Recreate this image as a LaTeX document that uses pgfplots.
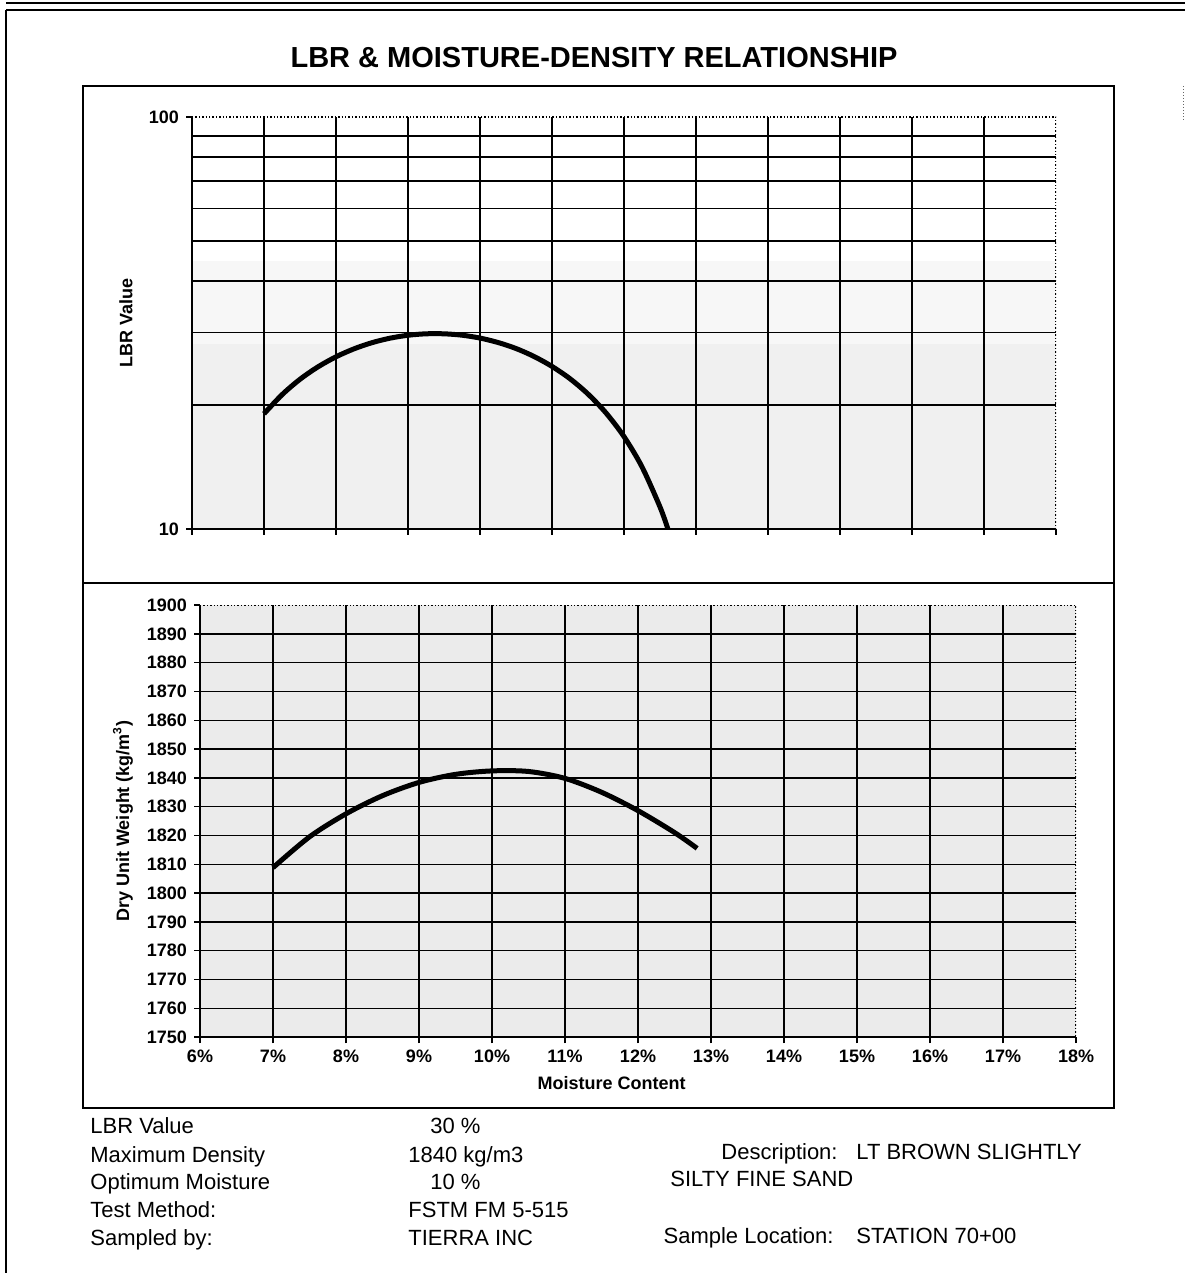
\documentclass[border=0pt]{standalone}
\usepackage{fontspec}
\setmainfont{Liberation Sans}
\usepackage{pgfplots}
\pgfplotsset{compat=1.18}

\pgfplotsset{
  lbrframe/.style={
    scale only axis,
    axis x line*=bottom, axis y line*=left,
    axis line style={-, line width=0.9pt, black},
    tick align=outside, major tick length=3pt,
    tick style={black, line width=0.7pt},
    grid style={black, line width=0.7pt},
    ticklabel style={font=\bfseries\fontsize{9}{10}\selectfont},
    /pgf/number format/assume math mode=true,
    /pgf/number format/1000 sep={},
  },
}

\begin{document}
\begin{tikzpicture}
\useasboundingbox (0pt,0pt) rectangle (592.5pt,-636.5pt);

% page rules
\draw[line width=0.7pt] (3pt,-1.5pt) -- (592.5pt,-1.5pt);
\draw[line width=0.7pt] (3pt,-5pt) -- (592.5pt,-5pt);
\draw[line width=0.8pt] (3pt,-5pt) -- (3pt,-636.5pt);
\draw[densely dotted, line width=0.5pt, black!60] (591.5pt,-43pt) -- (591.5pt,-60pt);

% chart frame and divider
\draw[line width=0.9pt] (41.5pt,-43pt) rectangle (557pt,-554pt);
\draw[line width=0.9pt] (41.5pt,-291.5pt) -- (557pt,-291.5pt);

\node[font=\bfseries\fontsize{14.5}{16}\selectfont] at (297pt,-29pt)
  {LBR \& MOISTURE-DENSITY RELATIONSHIP};

% stippled plot-area tint, laid down beneath the axes
\fill[black!6] (96pt,-264.5pt) rectangle (528pt,-171.8pt);
\fill[black!3] (96pt,-171.8pt) rectangle (528pt,-130.6pt);
\fill[black!8] (100pt,-518.5pt) rectangle (538pt,-302.5pt);

% LBR value against moisture content (log scale)
\begin{axis}[lbrframe,
  at={(96pt,-264.5pt)}, anchor=south west,
  width=432pt, height=206pt,
  xmin=6, xmax=18,
  ymode=log, ymin=10, ymax=100, yminorticks=false,
  xtick={6,...,18}, xticklabels={},
  ytick={10,100}, yticklabels={10,100},
  extra x ticks={7,...,17}, extra x tick labels={},
  extra x tick style={grid=major},
  extra y ticks={20,30,40,50,60,70,80,90}, extra y tick labels={},
  extra y tick style={grid=major, major tick length=0pt},
  ylabel={LBR Value},
  every axis y label/.style={at={(axis description cs:-0.0764,0.5)}, rotate=90,
    anchor=center, font=\bfseries\fontsize{9}{10}\selectfont},
]
\addplot[smooth, line width=2.5pt, black] coordinates {
  (7.0,19.04) (7.25,21.18) (7.5,23.09) (7.75,24.75) (8.0,26.18)
  (8.25,27.37) (8.5,28.33) (8.75,29.05) (9.0,29.53) (9.25,29.77)
  (9.5,29.77) (9.75,29.54) (10.0,29.07) (10.25,28.36) (10.5,27.42)
  (10.75,26.23) (11.0,24.81) (11.25,23.16) (11.5,21.26) (11.75,19.13)
  (12.0,16.76) (12.25,14.15) (12.5,11.31) (12.61,10.0)
};
\draw[densely dotted, line width=0.7pt] (rel axis cs:0,1) -- (rel axis cs:1,1) -- (rel axis cs:1,0);
\end{axis}

% dry unit weight against moisture content
\begin{axis}[lbrframe,
  at={(100pt,-518.5pt)}, anchor=south west,
  width=438pt, height=216pt,
  xmin=6, xmax=18, ymin=1750, ymax=1900,
  xtick={6,...,18},
  xticklabels={6\%,7\%,8\%,9\%,10\%,11\%,12\%,13\%,14\%,15\%,16\%,17\%,18\%},
  ytick={1750,1760,...,1900},
  extra x ticks={7,...,17}, extra x tick labels={},
  extra x tick style={grid=major},
  extra y ticks={1760,1770,...,1890}, extra y tick labels={},
  extra y tick style={grid=major},
  ylabel={Dry Unit Weight (kg/m\textsuperscript{3})},
  every axis y label/.style={at={(axis description cs:-0.0879,0.5)}, rotate=90,
    anchor=center, font=\bfseries\fontsize{9}{10}\selectfont},
  xlabel={Moisture Content},
  every axis x label/.style={at={(axis description cs:0.470,-0.1065)},
    anchor=center, font=\bfseries\fontsize{9}{10}\selectfont},
]
\addplot[smooth, line width=2.5pt, black] coordinates {
  (7.0,1808.8) (7.5,1819.5) (8.0,1827.5) (8.5,1833.8) (9.0,1838.4)
  (9.5,1841.2) (10.0,1842.4) (10.5,1842.2) (11.0,1839.8) (11.5,1835.0)
  (12.0,1828.6) (12.5,1821.0) (12.81,1815.5)
};
\draw[densely dotted, line width=0.7pt] (rel axis cs:0,1) -- (rel axis cs:1,1) -- (rel axis cs:1,0);
\end{axis}

% test summary
\begin{scope}[every node/.style={font=\fontsize{11}{12}\selectfont, inner sep=0pt}]
\node[anchor=base west] at (45pt,-566.5pt) {LBR Value};
\node[anchor=base west] at (45pt,-581pt) {Maximum Density};
\node[anchor=base west] at (45pt,-594.5pt) {Optimum Moisture};
\node[anchor=base west] at (45pt,-608.5pt) {Test Method:};
\node[anchor=base west] at (45pt,-622.5pt) {Sampled by:};
\node[anchor=base west] at (215pt,-566.5pt) {30 \%};
\node[anchor=base west] at (204pt,-581pt) {1840 kg/m3};
\node[anchor=base west] at (215pt,-594.5pt) {10 \%};
\node[anchor=base west] at (204pt,-608.5pt) {FSTM FM 5-515};
\node[anchor=base west] at (204pt,-622.5pt) {TIERRA INC};
\node[anchor=base east] at (419pt,-579.5pt) {Description:};
\node[anchor=base west] at (428pt,-579.5pt) {LT BROWN SLIGHTLY};
\node[anchor=base west] at (335pt,-593pt) {SILTY FINE SAND};
\node[anchor=base east] at (417pt,-621.5pt) {Sample Location:};
\node[anchor=base west] at (428pt,-621.5pt) {STATION 70+00};
\end{scope}
\end{tikzpicture}
\end{document}
